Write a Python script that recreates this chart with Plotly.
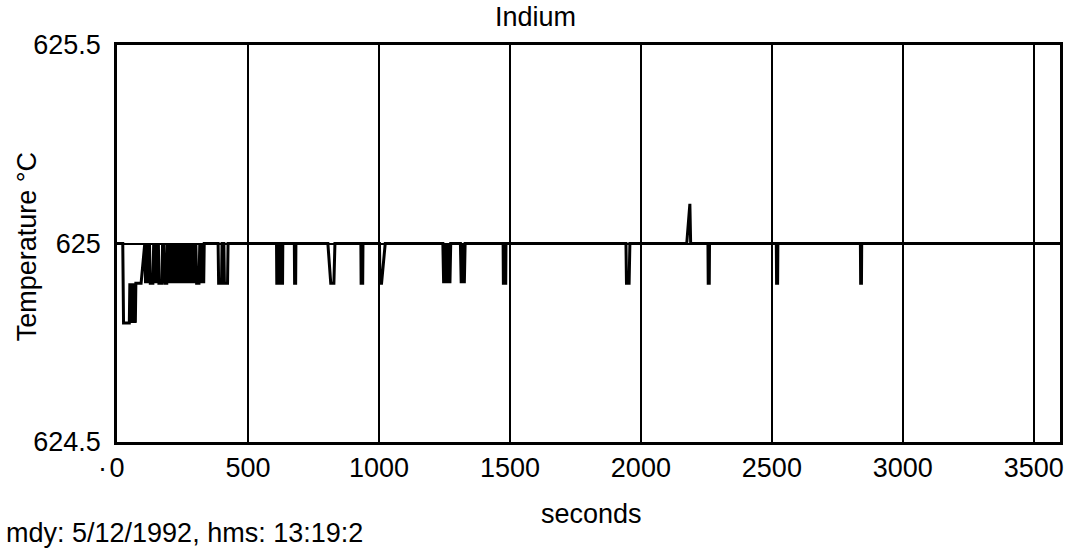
import plotly.graph_objects as go

# Indium fixed-point run: logged temperature (°C) against elapsed time (s)
time_s = [
    0, 22, 25, 47, 49, 52, 55, 58, 61, 64, 67, 70, 72, 92,
    106, 109, 112, 115, 118, 121, 124, 127, 137, 140, 143, 146, 149, 152,
    155, 158, 160, 171, 174, 177, 180, 183, 190, 193, 196, 199, 202, 205,
    208, 211, 214, 217, 220, 223, 226, 229, 232, 235, 238, 241, 244, 247,
    250, 253, 256, 259, 262, 265, 268, 271, 274, 277, 280, 283, 286, 289,
    292, 295, 298, 301, 304, 313, 316, 319, 322, 325, 328, 331, 333,
    386, 388, 399, 401,
    408, 410, 422, 424,
    609, 610, 616, 617,
    626, 627, 632, 633,
    677, 678, 682, 683,
    805, 816, 828, 832,
    931, 932, 938, 939,
    1002, 1004, 1010, 1024,
    1244, 1247, 1250, 1253, 1256, 1259, 1262, 1265, 1268, 1271, 1274,
    1311, 1314, 1317, 1320, 1323, 1326, 1329, 1333,
    1474, 1475, 1484, 1485,
    1943, 1945, 1955, 1958,
    2175, 2187, 2190,
    2256, 2257, 2261, 2262,
    2517, 2518, 2522, 2523,
    2838, 2839, 2842, 2843,
    3600,
]
temp_c = [
    625.0, 625.0, 624.8, 624.8, 624.9, 624.8, 624.9, 624.8, 624.9, 624.8, 624.9, 624.8, 624.9, 624.9,
    625.0, 624.9, 625.0, 624.9, 625.0, 624.9, 625.0, 624.9, 624.9, 625.0, 624.9, 625.0, 624.9, 625.0,
    624.9, 625.0, 624.9, 624.9, 625.0, 624.9, 625.0, 624.9, 624.9, 625.0, 624.9, 625.0, 624.9, 625.0,
    624.9, 625.0, 624.9, 625.0, 624.9, 625.0, 624.9, 625.0, 624.9, 625.0, 624.9, 625.0, 624.9, 625.0,
    624.9, 625.0, 624.9, 625.0, 624.9, 625.0, 624.9, 625.0, 624.9, 625.0, 624.9, 625.0, 624.9, 625.0,
    624.9, 625.0, 624.9, 625.0, 624.9, 624.9, 625.0, 624.9, 625.0, 624.9, 625.0, 624.9, 625.0,
    625.0, 624.9, 624.9, 625.0,
    625.0, 624.9, 624.9, 625.0,
    625.0, 624.9, 624.9, 625.0,
    625.0, 624.9, 624.9, 625.0,
    625.0, 624.9, 624.9, 625.0,
    625.0, 624.9, 624.9, 625.0,
    625.0, 624.9, 624.9, 625.0,
    625.0, 624.9, 624.9, 625.0,
    625.0, 624.9, 625.0, 624.9, 625.0, 624.9, 625.0, 624.9, 625.0, 624.9, 625.0,
    625.0, 624.9, 625.0, 624.9, 625.0, 624.9, 625.0, 625.0,
    625.0, 624.9, 624.9, 625.0,
    625.0, 624.9, 624.9, 625.0,
    625.0, 625.1, 625.0,
    625.0, 624.9, 624.9, 625.0,
    625.0, 624.9, 624.9, 625.0,
    625.0, 624.9, 624.9, 625.0,
    625.0,
]
assert len(time_s) == len(temp_c)

x_ticks = [0, 500, 1000, 1500, 2000, 2500, 3000, 3500]
y_ticks = [624.5, 625.0, 625.5]
y_tick_text = ["624.5", "625", "625.5"]

FONT = "Liberation Sans"
SIZE = 27
W, H = 1076, 551
L, R, T, B = 117, 13, 45, 109
PW, PH = W - L - R, H - T - B


def px(x):
    return (x - L) / PW


def py(y):
    return (H - B - y) / PH


text_font = dict(family=FONT, size=SIZE, color="black")

fig = go.Figure(
    go.Scatter(
        x=time_s,
        y=temp_c,
        mode="lines",
        line=dict(color="black", width=3),
        hoverinfo="skip",
    )
)

fig.update_layout(
    width=W,
    height=H,
    margin=dict(l=L, r=R, t=T, b=B),
    paper_bgcolor="white",
    plot_bgcolor="white",
    showlegend=False,
    font=text_font,
)

axis_style = dict(
    showgrid=True,
    gridcolor="black",
    gridwidth=2,
    showline=True,
    linecolor="black",
    linewidth=2.5,
    mirror=True,
    ticks="",
    zeroline=False,
    tickfont=text_font,
)
fig.update_xaxes(range=[0, 3600], tickvals=x_ticks, **axis_style)
fig.update_yaxes(
    range=[624.5, 625.5],
    tickvals=y_ticks,
    ticktext=y_tick_text,
    ticklabelstandoff=8,
    **axis_style,
)

notes = [
    dict(text="Indium", x=px(537), y=py(17), xanchor="center", yanchor="middle"),
    dict(text="Temperature °C", x=px(27), y=py(247), xanchor="center", yanchor="middle", textangle=-90),
    dict(text="seconds", x=px(593), y=py(514), xanchor="center", yanchor="middle"),
    dict(text="mdy: 5/12/1992, hms: 13:19:2", x=px(4), y=py(533), xanchor="left", yanchor="middle"),
    dict(text="·", x=px(102), y=py(468), xanchor="center", yanchor="middle"),
]
for n in notes:
    fig.add_annotation(xref="paper", yref="paper", showarrow=False, font=text_font, **n)

fig.write_html("out.html")
